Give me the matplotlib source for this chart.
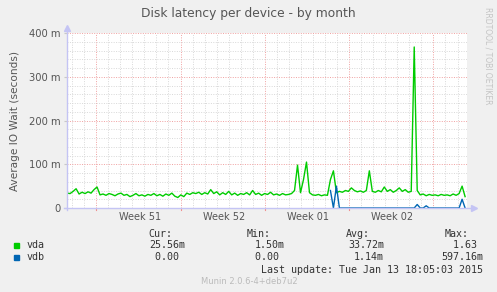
import numpy as np
import matplotlib
matplotlib.use("Agg")
import matplotlib.pyplot as plt
from matplotlib.patches import Rectangle

# ---- data (milliseconds), one sample every ~6 hours over the month ----
vda = [34, 33, 38, 44, 32, 36, 33, 37, 34, 42,
       48, 30, 32, 29, 33, 31, 28, 32, 34, 29,
       31, 26, 29, 33, 28, 30, 27, 31, 29, 33,
       28, 31, 27, 32, 29, 34, 27, 24, 30, 26,
       34, 31, 35, 33, 36, 31, 35, 32, 42, 33,
       37, 30, 35, 31, 38, 30, 34, 29, 33, 31,
       35, 30, 40, 31, 34, 29, 33, 31, 36, 30,
       32, 29, 33, 30, 31, 33, 40, 98, 35, 65,
       105, 35, 30, 29, 31, 28, 30, 29, 65, 85,
       35, 38, 36, 40, 38, 46, 40, 37, 39, 36,
       40, 85, 38, 36, 40, 37, 48, 38, 42, 36,
       40, 46, 38, 42, 36, 38, 368, 40, 30, 32,
       28, 31, 29, 30, 28, 31, 29, 30, 28, 32,
       29, 33, 50, 26]
nan = float("nan")
vdb = [nan] * 88 + [40, 0, 50, 0, 0, 0, 0, 0, 0, 0,
                    0, 0, 0, 0, 0, 0, 0, 0, 0, 0,
                    0, 0, 0, 0, 0, 0, 0, 0, 0, 8,
                    0, 0, 5, 0, 0, 0, 0, 0, 0, 0,
                    0, 0, 0, 0, 20, 0]
week_labels = ["Week 51", "Week 52", "Week 01", "Week 02"]
ytick_vals = [0, 100, 200, 300, 400]
ytick_labels = ["0", "100 m", "200 m", "300 m", "400 m"]
legend_names = ["vda", "vdb"]
legend_cur = ["25.56m", "0.00 "]
legend_min = ["1.50m", "0.00 "]
legend_avg = ["33.72m", "1.14m"]
legend_max = ["1.63 ", "597.16m"]
colors = ["#00CC00", "#0066B3"]

span_days = 33.3
first_monday = 2.47
times = np.linspace(0.05, 33.1, len(vda))

W, H = 497, 292
fig = plt.figure(figsize=(W / 100, H / 100), dpi=100)
fig.patch.set_facecolor("#F0F0F0")
ax = fig.add_axes([66.5 / W, (H - 208) / H, 401 / W, 175 / H])
ax.set_facecolor("white")
ax.set_xlim(0, span_days)
ax.set_ylim(0, 400)

# grid
dot = (0, (1, 1.5))
for d in np.arange(0, span_days, 1.0) + (first_monday % 1):
    is_major = abs(((d - first_monday) / 7) - round((d - first_monday) / 7)) < 1e-6
    ax.axvline(d, color="#F0A0A0" if is_major else "#D8D8D8",
               lw=0.7, ls=dot, zorder=1)
for v in range(20, 401, 20):
    ax.axhline(v, color="#F0A0A0" if v % 100 == 0 else "#D8D8D8",
               lw=0.7, ls=dot, zorder=1)

ax.plot(times, vda, color=colors[0], lw=1.0, zorder=3)
ax.plot(times, vdb, color=colors[1], lw=1.0, zorder=4)

for s in ax.spines.values():
    s.set_visible(False)
axc = "#C4C4F4"
ax.plot([0, 0], [-0.01, 1.025], color=axc, lw=1, transform=ax.transAxes, clip_on=False, zorder=5)
ax.plot([-0.005, 1.015], [0, 0], color=axc, lw=1, transform=ax.transAxes, clip_on=False, zorder=5)
ax.plot([0], [1.03], marker="^", ms=4, color=axc, transform=ax.transAxes, clip_on=False)
ax.plot([1.017], [0], marker=">", ms=4, color=axc, transform=ax.transAxes, clip_on=False)

ax.set_yticks(ytick_vals)
ax.set_yticklabels(ytick_labels, fontsize=7.2, color="#555555")
ax.set_xticks([])
ax.tick_params(axis="y", length=2, color="#C8C8C8", pad=2)
for i, lab in enumerate(week_labels):
    ax.text(first_monday + 3.6 + 7 * i, -9, lab, ha="center", va="top",
            fontsize=7, color="#555555")
    ax.plot([first_monday + 7 * i] * 2, [-4, 0], color="#F09090", lw=0.8, clip_on=False)

ax.set_ylabel("Average IO Wait (seconds)", fontsize=7.6, color="#555555", labelpad=4)
ax.yaxis.set_label_coords(-0.115, 0.5)

fig.text(248 / W, 1 - 13 / H, "Disk latency per device - by month",
         ha="center", va="center", fontsize=8.8, color="#555555")
fig.text(488 / W, 1 - 56 / H, "RRDTOOL / TOBI OETIKER", rotation=270,
         ha="center", va="center", fontsize=5.5, color="#C4C4C4")

mono = dict(family="DejaVu Sans Mono", fontsize=7.2, color="#333333", va="center")
fig.text(172 / W, 1 - 234 / H, "Cur:", ha="right", **mono)
fig.text(271 / W, 1 - 234 / H, "Min:", ha="right", **mono)
fig.text(370 / W, 1 - 234 / H, "Avg:", ha="right", **mono)
fig.text(469 / W, 1 - 234 / H, "Max:", ha="right", **mono)
rows_y = [245, 257.5]
for k in range(2):
    y = 1 - rows_y[k] / H
    fig.patches.append(Rectangle((14 / W, y - 2.5 / H), 5 / W, 5 / H,
                                 transform=fig.transFigure, color=colors[k]))
    fig.text(27 / W, y, legend_names[k], ha="left", **mono)
    fig.text(185 / W, y, legend_cur[k], ha="right", **mono)
    fig.text(285 / W, y, legend_min[k], ha="right", **mono)
    fig.text(384 / W, y, legend_avg[k], ha="right", **mono)
    fig.text(483 / W, y, legend_max[k], ha="right", **mono)
fig.text(483 / W, 1 - 270 / H, "Last update: Tue Jan 13 18:05:03 2015", ha="right", **mono)
fig.text(249 / W, 1 - 281 / H, "Munin 2.0.6-4+deb7u2", ha="center", va="center",
         fontsize=6, color="#BBBBBB")

fig.savefig("out.png", dpi=100, facecolor=fig.get_facecolor())
